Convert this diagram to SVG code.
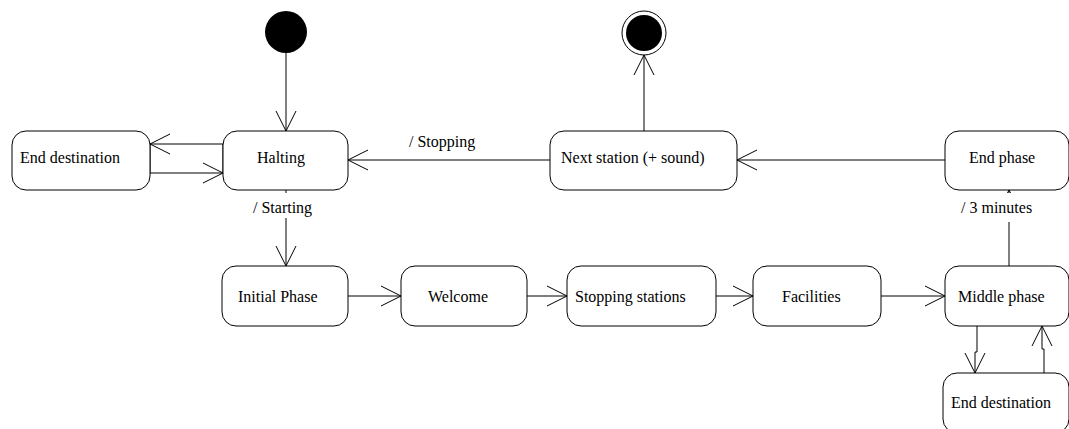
<svg xmlns="http://www.w3.org/2000/svg" width="1069" height="429" viewBox="0 0 1069 429">
  <style>
    .state { fill: #ffffff; stroke: #000000; stroke-width: 1; }
    .label { font-family: "Liberation Serif", "Times New Roman", serif; font-size: 16px; fill: #000000; }
    .edge { fill: none; stroke: #000000; stroke-width: 1; }
    .bg { fill: #ffffff; stroke: none; }
  </style>
  <defs>
    <marker id="open-arrow" markerUnits="userSpaceOnUse" markerWidth="24" markerHeight="24" refX="20" refY="11" orient="auto">
      <path d="M0,1 L20,11 L0,21" fill="none" stroke="#000000" stroke-width="1"/>
    </marker>
  </defs>

  <rect width="1069" height="429" fill="#ffffff"/>

  <!-- transitions -->
  <g id="connectors">
    <line class="edge" x1="286" y1="53" x2="286" y2="131" marker-end="url(#open-arrow)"/>
    <line class="edge" x1="223" y1="144" x2="150" y2="144" marker-end="url(#open-arrow)"/>
    <line class="edge" x1="150" y1="173" x2="223" y2="173" marker-end="url(#open-arrow)"/>
    <line class="edge" x1="223" y1="144" x2="223" y2="173"/>
    <line class="edge" x1="150" y1="144" x2="150" y2="173"/>
    <line class="edge" x1="286" y1="190" x2="286" y2="266" marker-end="url(#open-arrow)"/>
    <line class="edge" x1="550" y1="160" x2="348" y2="160" marker-end="url(#open-arrow)"/>
    <line class="edge" x1="644" y1="131" x2="644" y2="55" marker-end="url(#open-arrow)"/>
    <line class="edge" x1="945" y1="160" x2="737" y2="160" marker-end="url(#open-arrow)"/>
    <line class="edge" x1="348" y1="296" x2="401" y2="296" marker-end="url(#open-arrow)"/>
    <line class="edge" x1="527" y1="296" x2="567" y2="296" marker-end="url(#open-arrow)"/>
    <line class="edge" x1="716" y1="296" x2="753" y2="296" marker-end="url(#open-arrow)"/>
    <line class="edge" x1="881" y1="296" x2="945" y2="296" marker-end="url(#open-arrow)"/>
    <line class="edge" x1="1009" y1="266" x2="1009" y2="190" marker-end="url(#open-arrow)"/>
    <polyline class="edge" points="977,326 977,352 975,352 975,373" marker-end="url(#open-arrow)"/>
    <polyline class="edge" points="1044,373 1044,349 1042,349 1042,326" marker-end="url(#open-arrow)"/>

    <!-- transition labels -->
    <text class="label" x="409" y="147">/ Stopping</text>
    <rect class="bg" x="250" y="193" width="66" height="25"/>
    <text class="label" x="253" y="213">/ Starting</text>
    <rect class="bg" x="958" y="193" width="78" height="29"/>
    <text class="label" x="961" y="213">/ 3 minutes</text>
  </g>

  <!-- pseudo-states -->
  <g id="initial">
    <circle cx="286" cy="32" r="21" fill="#000000"/>
  </g>
  <g id="final">
    <circle cx="644" cy="33" r="22" fill="#ffffff" stroke="#000000" stroke-width="1"/>
    <circle cx="644" cy="33" r="18" fill="#000000"/>
  </g>

  <!-- states -->
  <g id="end-destination-top">
    <rect class="state" x="12" y="131" width="138" height="59" rx="14" ry="14"/>
    <text class="label" x="20" y="163">End destination</text>
  </g>
  <g id="halting">
    <rect class="state" x="223" y="131" width="125" height="59" rx="14" ry="14"/>
    <text class="label" x="257" y="163">Halting</text>
  </g>
  <g id="next-station">
    <rect class="state" x="550" y="131" width="187" height="59" rx="14" ry="14"/>
    <text class="label" x="561" y="163">Next station (+ sound)</text>
  </g>
  <g id="end-phase">
    <rect class="state" x="945" y="131" width="124" height="59" rx="14" ry="14"/>
    <text class="label" x="969" y="163">End phase</text>
  </g>
  <g id="initial-phase">
    <rect class="state" x="222" y="266" width="126" height="60" rx="14" ry="14"/>
    <text class="label" x="238" y="302">Initial Phase</text>
  </g>
  <g id="welcome">
    <rect class="state" x="401" y="266" width="126" height="60" rx="14" ry="14"/>
    <text class="label" x="428" y="302">Welcome</text>
  </g>
  <g id="stopping-stations">
    <rect class="state" x="567" y="266" width="149" height="60" rx="14" ry="14"/>
    <text class="label" x="575" y="302">Stopping stations</text>
  </g>
  <g id="facilities">
    <rect class="state" x="753" y="266" width="128" height="60" rx="14" ry="14"/>
    <text class="label" x="782" y="302">Facilities</text>
  </g>
  <g id="middle-phase">
    <rect class="state" x="945" y="266" width="124" height="60" rx="14" ry="14"/>
    <text class="label" x="958" y="302">Middle phase</text>
  </g>
  <g id="end-destination-bottom">
    <rect class="state" x="943" y="373" width="126" height="60" rx="14" ry="14"/>
    <text class="label" x="951" y="408">End destination</text>
  </g>
</svg>
